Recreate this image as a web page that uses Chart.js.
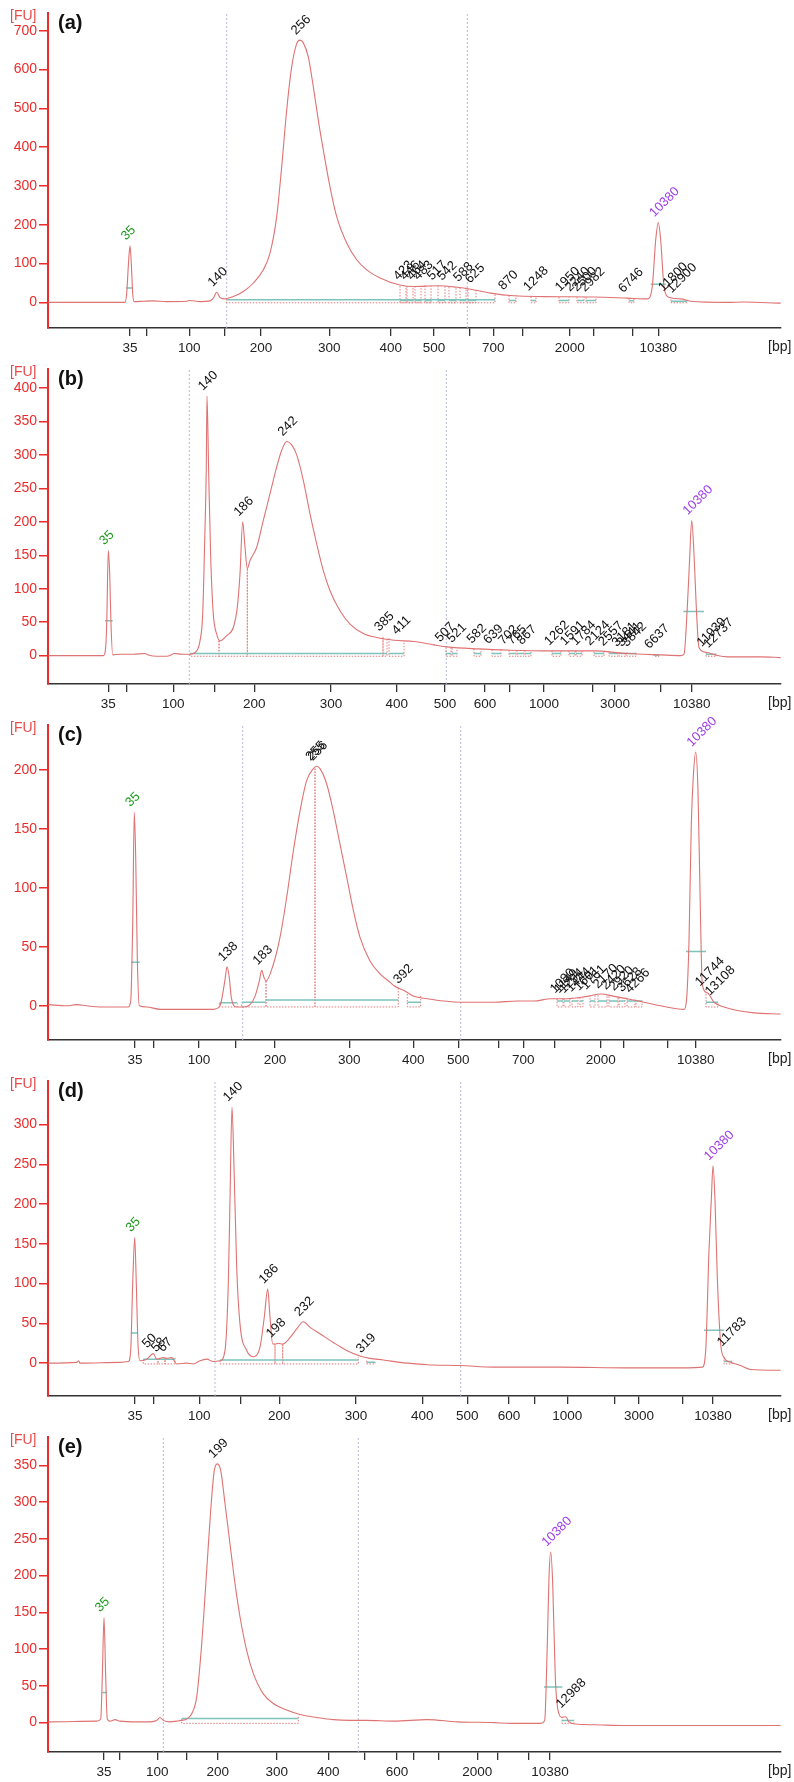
<!DOCTYPE html>
<html>
<head>
<meta charset="utf-8">
<script src="https://cdn.jsdelivr.net/npm/chart.js@4.4.1/dist/chart.umd.min.js"></script>
<style>
  body { margin: 0; background: #fff; }
  canvas { display: block; }
</style>
</head>
<body>
<canvas id="pa" width="794" height="356"></canvas>
<canvas id="pb" width="794" height="356"></canvas>
<canvas id="pc" width="794" height="356"></canvas>
<canvas id="pd" width="794" height="356"></canvas>
<canvas id="pe" width="794" height="358"></canvas>
<script>
// x = migration time (s), y = fluorescence [FU]

// ---- (a) ----
const traceA = [[4.83,0],[12.5,0],[12.67,24],[12.87,110],[13.0,146],[13.13,101],[13.27,24],[13.4,2],[14.33,3],[15.33,4],[16.67,2],[18.67,3],[19.0,5],[20.0,2],[21.0,4],[21.33,11],[21.67,26],[22.0,13],[22.4,9],[23.33,15],[24.33,28],[25.33,50],[26.33,84],[27.0,127],[27.67,221],[28.17,350],[28.67,496],[29.17,607],[29.67,667],[30.0,676],[30.33,669],[30.83,633],[31.33,556],[31.83,470],[32.33,393],[33.0,298],[33.67,221],[34.67,153],[35.67,110],[36.67,84],[38.0,63],[40.0,45],[41.4,41],[43.73,43],[45.73,39],[47.07,34],[49.07,24],[51.4,17],[54.4,15],[59.4,14],[62.73,11],[64.73,9],[65.23,41],[65.57,161],[65.83,206],[66.07,161],[66.4,41],[66.9,13],[68.07,9],[69.07,3],[72.73,0],[74.4,1],[78.07,-2]];
const ticksA = [13.0,14.67,18.93,22.43,26.1,32.93,39.07,43.4,47.0,49.33,52.3,56.97,59.33,63.23,65.83];
const tickTextA = ['35','','100','','200','300','400','500','','700','','2000','','','10380'];
const yTicksA = [0,100,200,300,400,500,600,700];
const markersA = [22.67, 46.73];
const labelsA = [[13.0,146,'35'],[21.67,26,'140'],[30.0,676,'256'],[40.23,43,'423'],[40.9,43,'446'],[41.57,43,'464'],[42.23,43,'483'],[43.6,43,'517'],[44.6,42,'542'],[46.23,39,'588'],[47.4,35,'625'],[50.73,18,'870'],[53.23,15,'1248'],[56.4,14,'1950'],[57.4,14,'2240'],[58.1,14,'2500'],[58.9,13,'2982'],[62.73,11,'6746'],[66.73,14,'11800'],[67.57,10,'12900'],[65.83,206,'10380']];
const boxesA = [[22.67,49.5,9,24,7],[40.0,40.6,42,42,5],[40.7,41.3,42,42,5],[41.5,42.1,42,42,5],[42.5,43.1,43,43,5],[43.8,44.5,43,43,5],[44.9,45.6,40,40,5],[46.0,46.6,38,38,5],[46.8,47.6,34,34,5],[50.9,51.6,18,18,5],[53.1,53.6,15,15,5],[55.9,56.9,14,14,5],[57.7,58.4,14,14,5],[58.6,59.6,13,13,5],[62.9,63.4,10,10,4],[67.1,68.7,8,8,3]];
const halvesA = [[12.6,13.33,37],[65.07,66.57,47]];

// ---- (b) ----
const traceB = [[4.83,0],[10.33,0],[10.53,7],[10.67,47],[10.83,157],[10.97,122],[11.1,47],[11.27,1],[12.0,2],[13.33,2],[14.5,3],[14.83,1],[15.67,-1],[16.67,-1],[17.5,3],[18.17,2],[19.0,2],[19.67,7],[20.0,22],[20.27,62],[20.47,172],[20.63,282],[20.7,388],[20.87,272],[21.07,147],[21.33,62],[21.67,32],[22.0,22],[22.67,30],[23.33,42],[23.73,72],[24.0,122],[24.27,200],[24.5,162],[24.73,130],[25.0,142],[25.67,162],[26.33,202],[27.0,242],[27.67,282],[28.17,307],[28.67,320],[29.17,315],[29.67,300],[30.33,262],[31.0,212],[31.67,167],[32.33,127],[33.0,97],[34.0,67],[35.0,47],[36.33,33],[37.67,27],[39.4,23],[41.4,21],[43.4,16],[44.73,13],[47.73,10],[51.07,8],[54.4,7],[59.4,7],[62.73,3],[66.07,1],[68.07,0],[68.4,2],[68.73,72],[68.97,147],[69.17,202],[69.4,152],[69.63,72],[69.9,12],[70.57,5],[71.73,0],[72.73,-2],[76.07,-2],[78.07,-3]];
const ticksB = [10.83,12.67,17.33,21.43,25.43,33.1,39.67,44.5,48.5,51.0,54.4,59.23,61.5,66.07,69.17];
const tickTextB = ['35','','100','','200','300','400','500','600','','1000','','3000','','10380'];
const yTicksB = [0,50,100,150,200,250,300,350,400];
const markersB = [18.93, 44.63];
const labelsB = [[10.83,157,'35'],[20.7,388,'140'],[24.27,200,'186'],[28.67,320,'242'],[38.33,28,'385'],[40.07,23,'411'],[44.4,12,'507'],[45.57,11,'521'],[47.57,10,'582'],[49.23,9,'639'],[50.73,8,'702'],[51.57,8,'765'],[52.57,8,'867'],[55.33,7,'1262'],[56.9,7,'1591'],[58.0,7,'1784'],[59.4,7,'2124'],[60.73,6,'2557'],[62.07,5,'3181'],[62.57,5,'3441'],[63.07,5,'3842'],[65.33,2,'6637'],[70.57,5,'11939'],[71.23,3,'12737'],[69.17,202,'10380']];
const boxesB = [[19.0,21.9,2,22,3],[21.9,24.73,22,130,3],[24.73,38.3,130,28,3],[38.3,38.7,28,27,3],[38.9,40.4,26,22,3],[44.6,45.1,12,12,3],[45.2,45.7,11,11,3],[47.4,48.1,10,10,3],[49.2,50.1,9,9,3],[50.9,51.6,8,8,3],[51.7,52.4,8,8,3],[52.5,53.1,8,8,3],[55.2,56.1,7,7,3],[56.9,57.5,7,7,3],[57.6,58.2,7,7,3],[59.4,60.4,6,6,3],[60.9,61.8,5,5,3],[61.9,62.6,5,5,3],[62.7,63.6,5,5,3],[65.4,65.9,2,2,1],[70.6,71.6,5,3,2]];
const halvesB = [[10.5,11.27,52],[68.33,70.4,66]];

// ---- (c) ----
const traceC = [[4.83,1],[6.67,0],[7.67,1],[8.67,0],[10.0,-1],[11.33,-1],[12.83,-1],[13.07,4],[13.27,69],[13.43,164],[13.57,126],[13.73,41],[13.93,0],[14.67,-1],[16.0,-3],[17.33,-3],[18.67,-3],[20.0,-3],[21.33,-3],[22.0,0],[22.33,13],[22.53,24],[22.7,33],[22.93,24],[23.13,7],[23.67,-1],[24.33,-1],[25.0,1],[25.5,8],[25.93,21],[26.17,30],[26.4,24],[26.6,21],[27.33,35],[28.0,58],[28.67,92],[29.33,131],[30.0,165],[30.67,191],[31.33,201],[31.67,203],[32.0,201],[32.67,188],[33.33,165],[34.0,137],[34.67,109],[35.33,81],[36.0,58],[37.0,38],[38.0,27],[39.0,20],[39.4,17],[40.4,13],[41.4,8],[42.73,6],[44.4,4],[46.07,3],[49.4,3],[51.73,4],[53.4,4],[55.07,6],[56.73,6],[58.73,8],[60.07,10],[61.4,8],[62.73,6],[64.4,3],[66.07,0],[68.4,-3],[68.63,3],[68.9,55],[69.13,154],[69.33,194],[69.57,215],[69.8,182],[70.0,97],[70.23,18],[70.73,11],[71.4,3],[72.4,-1],[73.73,-4],[75.4,-6],[78.07,-7]];
const ticksC = [13.5,15.33,19.9,23.6,27.5,34.93,41.33,45.83,49.9,52.33,55.5,60.07,62.33,66.73,69.57];
const tickTextC = ['35','','100','','200','300','400','500','','700','','2000','','','10380'];
const yTicksC = [0,50,100,150,200];
const markersC = [24.27, 46.07];
const labelsC = [[13.43,164,'35'],[22.7,33,'138'],[26.17,30,'183'],[31.45,203,'255'],[31.67,203,'256'],[40.23,14,'392'],[55.9,6,'1080'],[56.3,6,'1149'],[56.8,6,'1294'],[57.5,7,'1444'],[58.3,8,'1601'],[59.0,9,'1761'],[60.2,10,'2170'],[61.0,9,'2420'],[61.8,8,'2920'],[62.6,7,'3628'],[63.4,6,'4266'],[70.4,12,'11744'],[71.4,4,'13108'],[69.57,215,'10380']];
const boxesC = [[21.93,23.73,2,2,2.5],[24.17,26.6,1,21,3],[26.6,31.5,21,201,5],[31.5,39.83,201,15,5],[40.73,42.07,10,9,3],[55.7,56.3,6,6,4],[56.4,57.0,6,6,4],[57.2,57.8,7,7,4],[58.0,58.3,7,7,4],[59.0,59.5,9,9,4],[59.8,60.7,9,9,4],[60.9,61.8,8,8,4],[61.9,62.5,7,7,4],[62.7,63.5,6,6,4],[63.6,64.2,5,5,4],[70.6,71.8,10,3,3]];
const halvesC = [[13.1,13.97,37],[68.6,70.6,46]];

// ---- (d) ----
const traceD = [[4.83,0],[7.67,1],[7.87,3],[8.0,0],[12.0,1],[12.83,2],[13.07,16],[13.27,100],[13.47,158],[13.63,100],[13.8,24],[14.0,3],[14.67,5],[15.33,12],[15.67,5],[16.0,6],[16.33,7],[16.67,6],[17.17,7],[17.67,-1],[18.67,0],[19.33,-1],[20.0,3],[20.67,5],[21.33,2],[22.0,3],[22.5,16],[22.83,100],[23.0,205],[23.2,322],[23.4,247],[23.67,121],[24.0,49],[24.67,16],[25.4,8],[26.0,20],[26.43,58],[26.77,93],[27.0,58],[27.27,24],[27.5,24],[27.83,25],[28.27,24],[29.0,32],[29.67,43],[30.33,52],[31.0,45],[32.0,37],[33.33,26],[34.67,16],[36.0,9],[37.0,6],[38.33,4],[40.0,1],[40.73,0],[42.73,-2],[46.07,-3],[49.4,-5],[56.07,-5],[62.73,-6],[68.73,-6],[70.23,-5],[70.57,16],[70.9,142],[71.13,205],[71.3,248],[71.5,205],[71.73,108],[72.07,24],[72.4,7],[73.07,1],[74.07,-3],[75.07,-8],[78.07,-9]];
const ticksD = [13.5,15.33,19.93,24.07,27.93,35.6,42.23,46.73,50.9,53.5,56.73,61.5,63.9,68.23,71.3];
const tickTextD = ['35','','100','','200','300','400','500','600','','1000','','3000','','10380'];
const yTicksD = [0,50,100,150,200,250,300];
const markersD = [21.5, 46.07];
const labelsD = [[13.47,158,'35'],[15.1,12,'50'],[16.0,7,'58'],[16.67,7,'67'],[23.2,322,'140'],[26.77,93,'186'],[27.5,25,'198'],[30.33,52,'232'],[36.5,6,'319'],[72.6,14,'11783'],[71.3,248,'10380']];
const boxesD = [[14.33,15.8,5,5,5],[15.8,16.5,6,6,5],[16.5,17.5,7,7,5],[22.0,27.5,3,24,4],[27.5,28.27,24,24,4],[28.27,35.83,24,8,4],[36.67,37.5,3,3,1],[72.4,73.2,8,3,2]];
const halvesD = [[13.07,13.8,38],[70.4,72.4,41.5]];

// ---- (e) ----
const traceE = [[4.83,1],[9.67,2],[10.07,5],[10.23,62],[10.4,143],[10.57,62],[10.73,5],[11.0,2],[11.5,4],[12.0,2],[13.67,1],[14.67,1],[15.67,3],[16.0,7],[16.33,3],[17.0,1],[17.67,2],[18.17,3],[18.67,5],[19.17,12],[19.67,35],[20.17,107],[20.67,207],[21.07,289],[21.43,343],[21.73,352],[22.07,343],[22.5,298],[23.0,243],[23.5,189],[24.0,144],[24.67,98],[25.33,67],[26.33,39],[27.33,26],[28.67,17],[30.0,11],[31.67,7],[33.33,4],[35.0,3],[36.67,3],[39.4,2],[42.73,4],[45.73,1],[49.4,0],[51.07,-1],[54.07,-1],[54.47,3],[54.73,107],[54.9,198],[55.07,232],[55.27,189],[55.53,62],[55.8,17],[56.23,7],[56.57,8],[56.9,1],[57.57,-2],[59.4,-3],[62.73,-4],[78.07,-4]];
const ticksE = [10.4,11.93,15.73,18.67,21.77,27.67,32.83,36.5,39.7,41.4,43.9,47.73,49.73,52.9,55.0];
const tickTextE = ['35','','100','','200','300','400','','600','','','2000','','','10380'];
const yTicksE = [0,50,100,150,200,250,300,350];
const markersE = [16.33, 35.83];
const labelsE = [[10.4,143,'35'],[21.73,352,'199'],[55.07,232,'10380'],[56.5,12,'12988']];
const boxesE = [[18.17,29.83,5,10,5.5],[56.2,57.4,8,3,3]];
const halvesE = [[10.2,10.7,41],[54.4,56.23,48.5]];

const TRACE = '#df7272';
const AXIS_RED = '#ee2b2b';
const FU_RED = '#e84a4a';
const GREEN = '#1f9a1f';
const PURPLE = '#a040e8';
const CYAN = '#7cc4bc';
const RED_DOT = '#e27c7c';
const MARK = '#b6bbdd';

Chart.defaults.font.family = '"Liberation Sans", Arial, sans-serif';

function buildMarks(boxes, halves) {
  const red = [], cyan = [];
  boxes.forEach(([t1, t2, h1, h2, base]) => {
    red.push({x: t1, y: h1}, {x: t1, y: -1}, {x: t2, y: -1}, {x: t2, y: h2}, {x: t2, y: null});
    cyan.push({x: t1, y: base}, {x: t2, y: base}, {x: t2, y: null});
  });
  halves.forEach(([t1, t2, fu]) => cyan.push({x: t1, y: fu}, {x: t2, y: fu}, {x: t2, y: null}));
  return {red, cyan};
}

function decor(p) {
  return {
    id: 'decor',
    afterDraw(chart) {
      const ctx = chart.ctx, xs = chart.scales.x, ys = chart.scales.y;
      ctx.save();
      ctx.textAlign = 'left';
      ctx.textBaseline = 'middle';
      ctx.fillStyle = FU_RED;
      ctx.font = '14px "Liberation Sans"';
      ctx.fillText('[FU]', 10, 16);
      ctx.fillStyle = '#111';
      ctx.font = 'bold 20px "Liberation Sans"';
      ctx.fillText(p.tag, 58, 23);
      ctx.fillStyle = '#222';
      ctx.font = '14px "Liberation Sans"';
      ctx.textBaseline = 'top';
      ctx.fillText('[bp]', 768, xs.top + 12);
      // peak labels
      ctx.font = '13px "Liberation Sans"';
      ctx.textBaseline = 'alphabetic';
      p.labels.forEach(([t, fu, txt]) => {
        const x = xs.getPixelForValue(t), y = ys.getPixelForValue(fu);
        ctx.fillStyle = txt === '35' ? GREEN : (txt === '10380' ? PURPLE : '#111');
        ctx.save();
        ctx.translate(x - 4, y - 5);
        ctx.rotate(-Math.PI / 4);
        ctx.fillText(txt, 0, 0);
        ctx.restore();
      });
      ctx.restore();
    }
  };
}

function panel(id, p) {
  const {red, cyan} = buildMarks(p.boxes, p.halves);
  const marks = [];
  p.markers.forEach(t => marks.push({x: t, y: p.yMin}, {x: t, y: p.yMax}, {x: t, y: null}));

  new Chart(document.getElementById(id), {
    type: 'line',
    data: {
      datasets: [
        { data: p.trace.map(([x, y]) => ({x, y})), borderColor: TRACE, borderWidth: 1.1, pointRadius: 0, cubicInterpolationMode: 'monotone' },
        { data: cyan, borderColor: CYAN, borderWidth: 1.5, pointRadius: 0, spanGaps: false },
        { data: red, borderColor: RED_DOT, borderWidth: 1, borderDash: [1.5, 1.5], pointRadius: 0, spanGaps: false },
        { data: marks, borderColor: MARK, borderWidth: 1, borderDash: [2, 2], pointRadius: 0, spanGaps: false }
      ]
    },
    options: {
      responsive: false,
      animation: false,
      events: [],
      layout: { padding: { top: 13, right: 13, left: 0, bottom: p.padBottom || 0 } },
      plugins: { legend: { display: false }, tooltip: { enabled: false } },
      scales: {
        x: {
          type: 'linear',
          min: 4.8,
          max: 78.1,
          afterFit: s => { s.height = 28; },
          afterBuildTicks: s => { s.ticks = p.ticks.map(v => ({value: v})); },
          ticks: {
            autoSkip: false, maxRotation: 0, padding: 4, color: '#222',
            font: { size: 13.5 },
            callback: (v, i) => p.tickText[i]
          },
          grid: { drawOnChartArea: false, color: '#333', tickLength: 8, lineWidth: 1.3 },
          border: { color: '#333', width: 1.5 }
        },
        y: {
          min: p.yMin,
          max: p.yMax,
          afterFit: s => { s.width = 48; },
          afterBuildTicks: s => { s.ticks = p.yTicks.map(v => ({value: v})); },
          ticks: { color: AXIS_RED, font: { size: 14 }, padding: 2 },
          grid: { drawOnChartArea: false, color: AXIS_RED, tickLength: 9, lineWidth: 1.5 },
          border: { color: AXIS_RED, width: 2 }
        }
      }
    },
    plugins: [decor(p)]
  });
}

panel('pa', { tag: '(a)', trace: traceA, ticks: ticksA, tickText: tickTextA, yTicks: yTicksA, yMin: -66, yMax: 746, markers: markersA, labels: labelsA, boxes: boxesA, halves: halvesA });
panel('pb', { tag: '(b)', trace: traceB, ticks: ticksB, tickText: tickTextB, yTicks: yTicksB, yMin: -42.5, yMax: 428.5, markers: markersB, labels: labelsB, boxes: boxesB, halves: halvesB });
panel('pc', { tag: '(c)', trace: traceC, ticks: ticksC, tickText: tickTextC, yTicks: yTicksC, yMin: -29, yMax: 238, markers: markersC, labels: labelsC, boxes: boxesC, halves: halvesC });
panel('pd', { tag: '(d)', trace: traceD, ticks: ticksD, tickText: tickTextD, yTicks: yTicksD, yMin: -41.3, yMax: 354.7, markers: markersD, labels: labelsD, boxes: boxesD, halves: halvesD });
panel('pe', { tag: '(e)', trace: traceE, ticks: ticksE, tickText: tickTextE, yTicks: yTicksE, yMin: -40, yMax: 388.5, markers: markersE, labels: labelsE, boxes: boxesE, halves: halvesE, padBottom: 2 });
</script>
</body>
</html>
